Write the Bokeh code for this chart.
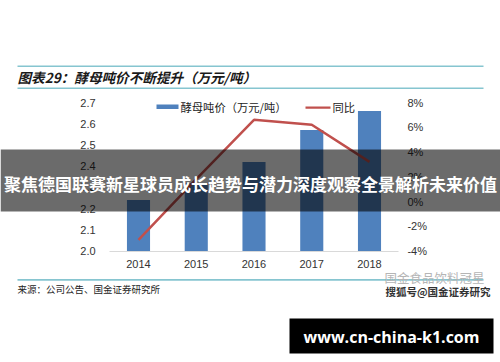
from bokeh.plotting import figure
from bokeh.models import (LinearAxis, Range1d, FixedTicker, PrintfTickFormatter,
                          BoxAnnotation, Label)
from bokeh.embed import file_html
from bokeh.resources import INLINE

# ---------------- data ----------------
years = ["2014", "2015", "2016", "2017", "2018"]
price = [2.24, 2.32, 2.42, 2.57, 2.66]          # 酵母吨价（万元/吨）
yoy = [-3.1, 1.8, 6.6, 6.2, 3.2]                # 同比 (%)
left_ticks = [2.0, 2.1, 2.2, 2.3, 2.4, 2.5, 2.6, 2.7]
right_ticks = [-4, -2, 0, 2, 4, 6, 8]

title_text = "图表29：酵母吨价不断提升（万元/吨）"
legend_labels = ["酵母吨价（万元/吨）", "同比"]
source_text = "来源：公司公告、国金证券研究所"
banner_text = "聚焦德国联赛新星球员成长趋势与潜力深度观察全景解析未来价值"
site_text = "www.cn-china-k1.com"
wm1 = "国金食品饮料冠星"
wm2 = "搜狐号@国金证券研究"

# ---------------- layout (pixels) ----------------
W, H = 500, 362
PX_TOP, PX_BOT = 102.0, 250.5        # pixel rows of the plot area top / bottom
PX_FIRST, PITCH = 138.0, 57.75       # pixel column of the first category, spacing
BAR = "#4f81bd"
RED = "#c0504d"
TEAL = "#86c5d0"
CJK = "Noto Sans CJK SC"
LAT = "Liberation Sans"

xs = list(range(len(years)))
lo, hi = left_ticks[0], left_ticks[-1]
plo, phi = right_ticks[0], right_ticks[-1]


def span(lo_v, hi_v):
    k = (PX_BOT - PX_TOP) / (hi_v - lo_v)
    return lo_v - (H - PX_BOT) / k, hi_v + PX_TOP / k


y0, y1 = span(lo, hi)
p0, p1 = span(plo, phi)
x0 = -PX_FIRST / PITCH
x1 = (W - PX_FIRST) / PITCH

p = figure(x_range=Range1d(x0, x1), y_range=Range1d(y0, y1),
           width=W, height=H, output_backend="svg", toolbar_location=None,
           min_border=0, background_fill_color="white", border_fill_color="white")
p.title.visible = False
p.outline_line_color = None
p.xgrid.grid_line_color = None
p.ygrid.grid_line_color = None
p.extra_y_ranges = {"pct": Range1d(p0, p1)}

p.vbar(x=xs, top=price, bottom=lo, width=0.4, fill_color=BAR, line_color=None)
p.line(x=xs, y=yoy, y_range_name="pct", line_color=RED, line_width=2.5)


def style_axis(ax, standoff):
    ax.major_tick_line_color = None
    ax.minor_tick_line_color = None
    ax.major_tick_in = 0
    ax.major_tick_out = 0
    ax.minor_tick_out = 0
    ax.major_label_standoff = standoff
    ax.major_label_text_font = LAT
    ax.major_label_text_font_size = "11px"
    ax.major_label_text_color = "#333333"


edge_l, edge_r = xs[0] - 0.5, xs[-1] + 0.5

yl = p.yaxis[0]
yl.ticker = FixedTicker(ticks=left_ticks)
yl.formatter = PrintfTickFormatter(format="%.1f")
yl.axis_line_color = None
yl.fixed_location = edge_l
style_axis(yl, 14)

xa = p.xaxis[0]
xa.ticker = FixedTicker(ticks=xs)
xa.major_label_overrides = {i: y for i, y in zip(xs, years)}
xa.axis_line_color = "#d9d9d9"
xa.axis_line_width = 1
xa.fixed_location = lo
xa.bounds = (edge_l, edge_r)
style_axis(xa, 9)

yr = LinearAxis(y_range_name="pct", ticker=FixedTicker(ticks=right_ticks),
                formatter=PrintfTickFormatter(format="%d%%"))
yr.axis_line_color = None
yr.fixed_location = edge_r
style_axis(yr, 9)
p.add_layout(yr, "right")


# window pixel coords -> screen units (bottom-left origin, y up)
def sx(X):
    return X


def sy(Y):
    return H - Y


def box(xa_, xb_, ya_, yb_, color, alpha=1.0):
    p.add_layout(BoxAnnotation(left=sx(xa_), right=sx(xb_), top=sy(ya_), bottom=sy(yb_),
                               left_units="screen", right_units="screen",
                               top_units="screen", bottom_units="screen",
                               fill_color=color, fill_alpha=alpha, line_color=None))


def label(X, Y, text, size, color="#1a1a1a", font=CJK, align="left", style="normal"):
    p.add_layout(Label(x=sx(X), y=sy(Y), x_units="screen", y_units="screen", text=text,
                       text_font=font, text_font_size=size, text_color=color,
                       text_align=align, text_baseline="middle", text_font_style=style))


# header
box(17, 483, 65, 66.6, TEAL)
label(17, 76.5, title_text, "13.6px", "#1a1a1a", style="bold italic")
box(17, 483, 87, 88.6, TEAL)

# legend
box(156, 178, 104, 108.5, BAR)
label(180, 106.5, legend_labels[0], "11.3px", "#222222")
box(305, 330, 106, 108.3, RED)
label(332, 106.5, legend_labels[1], "11.3px", "#222222")

# footer
box(17, 483, 278.6, 280.2, TEAL)
label(17, 288.5, source_text, "9.5px", "#222222")
label(484, 277, wm1, "12.5px", "#b5b5b5", align="right")
label(490, 290.5, wm2, "10.5px", "#333333", align="right", style="bold")

# banner overlay
box(0, 500, 149, 211, "black", 0.58)
label(250, 183, banner_text, "17px", "white", align="center", style="bold")

# site box
box(289, 493, 318, 353, "black")
label(391, 336, site_text, "16px", "white", font="Open Sans", align="center", style="bold")

open("out.html", "w").write(file_html(p, INLINE))
